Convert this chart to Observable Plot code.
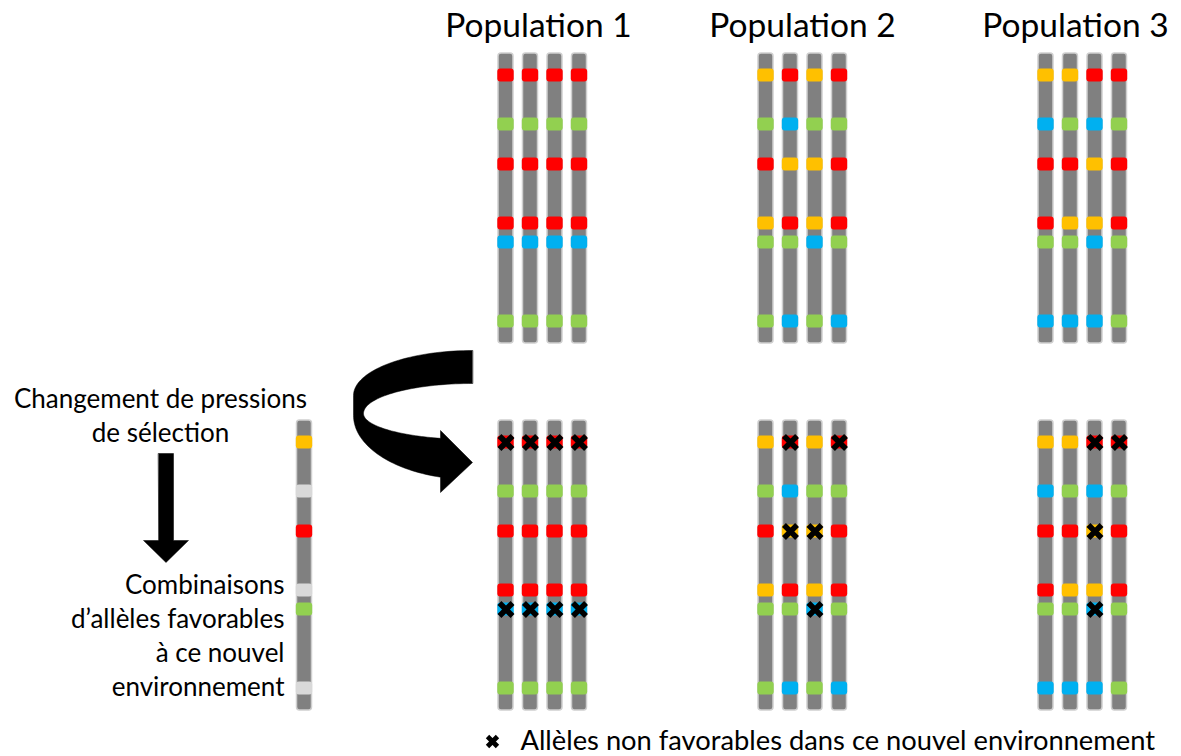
<!DOCTYPE html>
<html>
<head>
<meta charset="utf-8">
<script src="https://cdn.jsdelivr.net/npm/d3@7"></script>
<script src="https://cdn.jsdelivr.net/npm/@observablehq/plot@0.6"></script>
<style>
  html, body { margin: 0; padding: 0; background: #fff; overflow: hidden; }
  svg { display: block; }
</style>
</head>
<body>
<div id="chart"></div>
<script>
// ---------------- DATA ----------------
const populations = ["Population 1", "Population 2", "Population 3"];
// positions of the six loci along a chromosome (chromosome length = 290)
const lociPositions = [22, 71, 111, 170, 189, 268];
const chromosomeLength = 290;
// allele codes: R = red, Y = yellow, G = green, B = blue, N = neutral (light grey)
const population1 = [
  ["R", "G", "R", "R", "B", "G"],
  ["R", "G", "R", "R", "B", "G"],
  ["R", "G", "R", "R", "B", "G"],
  ["R", "G", "R", "R", "B", "G"]
];
const population2 = [
  ["Y", "G", "R", "Y", "G", "G"],
  ["R", "B", "Y", "R", "G", "B"],
  ["Y", "G", "Y", "Y", "B", "G"],
  ["R", "G", "R", "R", "G", "B"]
];
const population3 = [
  ["Y", "B", "R", "R", "G", "B"],
  ["Y", "G", "R", "Y", "G", "B"],
  ["R", "B", "Y", "Y", "B", "B"],
  ["R", "G", "R", "R", "G", "G"]
];
// combination of alleles favourable to the new environment
const favourable = ["Y", "N", "R", "N", "G", "N"];
const alleleCodes = ["R", "Y", "G", "B", "N"];
const alleleColors = ["#ff0000", "#ffc000", "#92d050", "#00b0f0", "#d9d9d9"];
const leftLabelTop = ["Changement de pressions", "de sélection"];
const leftLabelBottom = ["Combinaisons", "d’allèles favorables", "à ce nouvel", "environnement"];
const legendLabel = "Allèles non favorables dans ce nouvel environnement";

// ---------------- LAYOUT ----------------
const W = 1181, H = 756;
const popX0 = [505.5, 765.5, 1045.5];
const chromStep = 24.5;
const rowTop = [53, 420];          // before / after the change
const refX = 304;
const titleX = [538, 802, 1075];
const titleBaseline = 36;
const fontFamily = "Lato, 'Open Sans', sans-serif";

// ---------------- BUILD ----------------
const pops = [population1, population2, population3];
const chromosomes = [], loci = [], crosses = [];
pops.forEach((pop, p) => pop.forEach((alleles, c) => rowTop.forEach((top, r) => {
  const x = popX0[p] + c * chromStep;
  chromosomes.push({x, top});
  alleles.forEach((a, l) => {
    const y = top + lociPositions[l];
    loci.push({x, y, allele: a});
    if (r === 1 && favourable[l] !== "N" && a !== favourable[l]) crosses.push({x, y});
  });
})));
chromosomes.push({x: refX, top: rowTop[1]});
favourable.forEach((a, l) => loci.push({x: refX, y: rowTop[1] + lociPositions[l], allele: a}));

// shapes
function arc(shape, cx, cy, rx, ry, t0, t1, n = 40) {
  return d3.range(n + 1).map(i => {
    const t = t0 + (t1 - t0) * i / n;
    return {shape, x: cx + rx * Math.cos(t), y: cy + ry * Math.sin(t)};
  });
}
const headBase = 440, headTip = 472, tipY = 462, headTop = 430, headBottom = 492;
const tOuter = Math.acos(-(472 - headBase) / 119);
const tInner = Math.acos(-(472 - headBase) / 109);
const curved = [
  ...arc("curved", 472, 395, 119, 45, 1.5 * Math.PI, Math.PI),
  ...arc("curved", 472, 415, 119, 64, Math.PI, tOuter),
  {shape: "curved", x: headBase, y: headBottom},
  {shape: "curved", x: headTip, y: tipY},
  {shape: "curved", x: headBase, y: headTop},
  ...arc("curved", 472, 413, 109, 26, tInner, Math.PI),
  ...arc("curved", 472, 413, 109, 30, Math.PI, 1.5 * Math.PI)
];
const dx = 165.5, sTop = 453, sHalf = 7.5, hTop = 540, hHalf = 22.5, tip = 562;
const down = [
  [dx - sHalf, sTop], [dx + sHalf, sTop], [dx + sHalf, hTop], [dx + hHalf, hTop],
  [dx, tip], [dx - hHalf, hTop], [dx - sHalf, hTop]
].map(([x, y]) => ({shape: "down", x, y}));
const shapes = [...curved, ...down];

const topTexts = leftLabelTop.map((t, i) => ({t, x: 160, y: 407 + i * 34}));
const bottomTexts = leftLabelBottom.map((t, i) => ({t, x: 284, y: 593 + i * 34}));

const chart = Plot.plot({
  width: W, height: H, margin: 0,
  x: {domain: [0, W], range: [0, W], axis: null},
  y: {domain: [0, H], range: [0, H], axis: null},
  color: {type: "ordinal", domain: alleleCodes, range: alleleColors},
  style: {background: "#fff", fontFamily},
  marks: [
    Plot.rect(chromosomes, {
      x1: d => d.x - 7.5, x2: d => d.x + 7.5,
      y1: d => d.top, y2: d => d.top + chromosomeLength,
      fill: "#808080", stroke: "#cfcfcf", strokeWidth: 1.5, rx: 3
    }),
    Plot.rect(loci, {
      x1: d => d.x - 8.2, x2: d => d.x + 8.2,
      y1: d => d.y - 6.5, y2: d => d.y + 6.5,
      fill: "allele", rx: 3
    }),
    Plot.dot(crosses, {x: "x", y: "y", symbol: "times", r: 6, stroke: "black", strokeWidth: 5.5}),
    Plot.line(shapes, {x: "x", y: "y", z: "shape", fill: "black", stroke: "black", strokeWidth: 0.5, curve: "linear-closed"}),
    Plot.text(populations, {
      x: (d, i) => titleX[i], y: () => titleBaseline, text: d => d,
      fontSize: 33.5, fontFamily, lineAnchor: "bottom", textAnchor: "middle", fill: "black"
    }),
    Plot.text(topTexts, {
      x: "x", y: "y", text: "t", textAnchor: "middle",
      fontSize: 26, fontFamily, lineAnchor: "bottom", fill: "black"
    }),
    Plot.text(bottomTexts, {
      x: "x", y: "y", text: "t", textAnchor: "end",
      fontSize: 26, fontFamily, lineAnchor: "bottom", fill: "black"
    }),
    Plot.dot([legendLabel], {x: () => 492, y: () => 741, symbol: "times", r: 4.6, stroke: "black", strokeWidth: 4.8}),
    Plot.text([legendLabel], {
      x: () => 520, y: () => 749, text: d => d, textAnchor: "start",
      fontSize: 27.3, fontFamily, lineAnchor: "bottom", fill: "black"
    })
  ]
});
document.getElementById("chart").appendChild(chart);
</script>
</body>
</html>
